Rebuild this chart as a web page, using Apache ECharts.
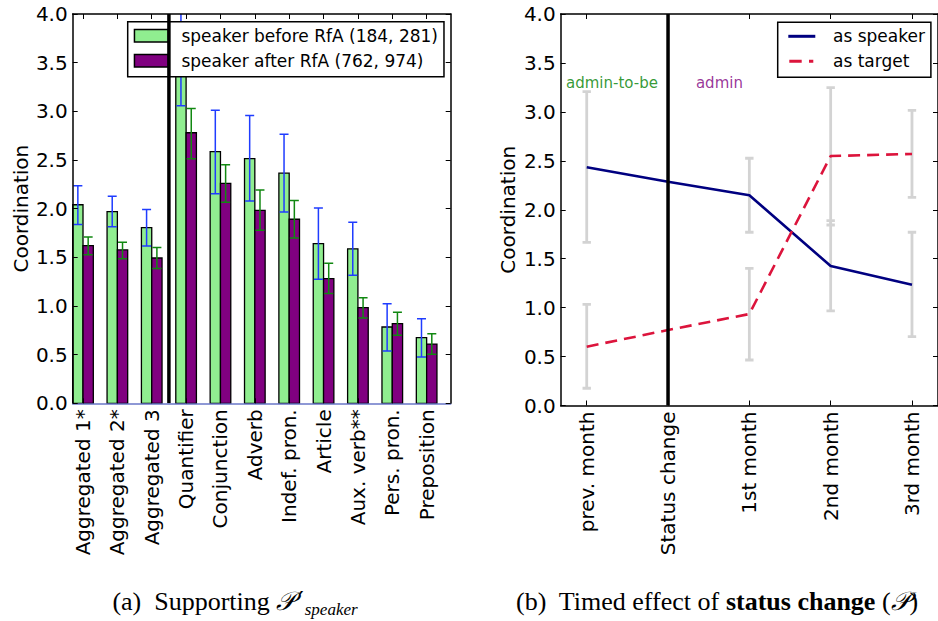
<!DOCTYPE html>
<html><head><meta charset="utf-8">
<script src="https://cdn.jsdelivr.net/npm/echarts@6/dist/echarts.min.js"></script>
<style>html,body{margin:0;padding:0;background:#fff}#c{width:938px;height:621px}</style>
</head><body><div id="c"></div>
<script>
// ---------- data: panel (a) ----------
const categories = ['Aggregated 1*','Aggregated 2*','Aggregated 3','Quantifier','Conjunction','Adverb','Indef. pron.','Article','Aux. verb**','Pers. pron.','Preposition'];
const beforeName = 'speaker before RfA (184, 281)';
const afterName = 'speaker after RfA (762, 974)';
const beforeMean = [2.04, 1.97, 1.805, 3.70, 2.585, 2.515, 2.365, 1.64, 1.587, 0.784, 0.674];
const beforeLow  = [1.836, 1.815, 1.617, 3.056, 2.154, 2.079, 1.966, 1.274, 1.315, 0.538, 0.476];
const beforeHigh = [2.236, 2.127, 1.99, 4.35, 3.01, 2.956, 2.765, 2.007, 1.86, 1.024, 0.87];
const afterMean  = [1.62, 1.576, 1.493, 2.78, 2.26, 1.983, 1.891, 1.281, 0.983, 0.818, 0.609];
const afterLow   = [1.527, 1.486, 1.384, 2.514, 2.066, 1.778, 1.699, 1.127, 0.877, 0.699, 0.503];
const afterHigh  = [1.709, 1.654, 1.60, 3.03, 2.452, 2.192, 2.083, 1.439, 1.085, 0.935, 0.715];
const yTicksMax = 4;

// ---------- data: panel (b) ----------
const timeLabels = ['prev. month','Status change','1st month','2nd month','3rd month'];
const speakerName = 'as speaker';
const targetName = 'as target';
const speakerVals = [2.434, 2.287, 2.148, 1.425, 1.234];
const targetVals  = [0.601, 0.771, 0.935, 2.549, 2.57];
const speakerLow  = [1.667, null, 1.77, 0.966, 0.703];
const speakerHigh = [3.206, null, 2.526, 1.888, 1.77];
const targetLow   = [0.176, null, 0.465, 1.844, 2.127];
const targetHigh  = [1.034, null, 1.402, 3.247, 3.016];

// ---------- layout constants ----------
const FONT = 'DejaVu Sans';
const AX_FS = 20;
const BAR_W = 0.3;
const SEP_A = 2.8;      // separator between aggregated and single categories (x units)
const SEP_B = 1;        // status change
const NOTE_Y = 3.3;

const chart = echarts.init(document.getElementById('c'), null, {renderer: 'svg'});

function barRender(off, fill, vals) {
  return function (params, api) {
    const i = params.dataIndex;
    const a = api.coord([i + off, 0]);
    const b = api.coord([i + off + BAR_W, vals[i]]);
    const cs = params.coordSys;
    const top = Math.max(b[1], cs.y);
    return {type: 'rect', shape: {x: a[0], y: top, width: b[0] - a[0], height: a[1] - top},
      style: {fill: fill, stroke: '#000', lineWidth: 1.3}};
  };
}
// error bar: reads low/high from the named arrays by category index
function errRender(off, color, capHalf, lw, lows, highs) {
  return function (params, api) {
    const i = params.dataIndex;
    if (lows[i] == null || highs[i] == null) return null;
    const lo = api.coord([i + off, lows[i]]);
    const hi = api.coord([i + off, highs[i]]);
    const cs = params.coordSys;
    const top = Math.max(hi[1], cs.y);
    const px = lo[0];
    let d = 'M' + (px - capHalf) + ' ' + lo[1] + 'L' + (px + capHalf) + ' ' + lo[1] +
            'M' + px + ' ' + lo[1] + 'L' + px + ' ' + top;
    if (hi[1] >= cs.y) d += 'M' + (px - capHalf) + ' ' + hi[1] + 'L' + (px + capHalf) + ' ' + hi[1];
    return {type: 'path', shape: {pathData: d}, style: {fill: null, stroke: color, lineWidth: lw}};
  };
}

const yAxisBase = (grid, pos, labels, name, gap) => ({
  type: 'value', gridIndex: grid, position: pos, min: 0, max: yTicksMax, interval: 0.5,
  axisLine: {show: true, onZero: false, lineStyle: {color: '#000', width: 1.5}},
  axisTick: {show: true, inside: true, length: 5, lineStyle: {color: '#000', width: 1}},
  axisLabel: {show: labels, margin: 5, fontFamily: FONT, fontSize: AX_FS, color: '#000', formatter: v => v.toFixed(1)},
  splitLine: {show: false},
  name: name, nameLocation: 'middle', nameGap: gap, nameRotate: 90,
  nameTextStyle: {fontFamily: FONT, fontSize: AX_FS, color: '#000'},
  z: 5
});

const catCenters = categories.map((_, i) => i + BAR_W);
const timeIdx = timeLabels.map((_, i) => i);

const option = {
  animation: false,
  backgroundColor: '#fff',
  grid: [
    {left: 72.7, top: 14, width: 378, height: 389.3},
    {left: 560.7, top: 14, width: 377.7, height: 391.5}
  ],
  xAxis: [
    {type: 'value', gridIndex: 0, position: 'bottom', min: 0, max: categories.length,
      axisLine: {show: true, onZero: false, lineStyle: {color: '#6a77c8', width: 1.5}},
      axisTick: {show: true, inside: true, length: 5, customValues: catCenters, lineStyle: {color: '#000'}},
      axisLabel: {customValues: catCenters, rotate: 90, margin: 6, fontFamily: FONT, fontSize: AX_FS, color: '#000',
        formatter: v => categories[Math.round(v - BAR_W)]},
      splitLine: {show: false}, z: 5},
    {type: 'value', gridIndex: 0, position: 'top', min: 0, max: categories.length,
      axisLine: {show: true, onZero: false, lineStyle: {color: '#000', width: 1.5}},
      axisTick: {show: true, inside: true, length: 5, customValues: catCenters, lineStyle: {color: '#000'}},
      axisLabel: {show: false}, splitLine: {show: false}, z: 5},
    {type: 'value', gridIndex: 1, position: 'bottom', min: -0.32, max: 4.32,
      axisLine: {show: true, onZero: false, lineStyle: {color: '#000', width: 1.5}},
      axisTick: {show: true, inside: true, length: 5, customValues: timeIdx, lineStyle: {color: '#000'}},
      axisLabel: {customValues: timeIdx, rotate: 90, margin: 6, fontFamily: FONT, fontSize: AX_FS, color: '#000',
        formatter: v => timeLabels[Math.round(v)]},
      splitLine: {show: false}, z: 5},
    {type: 'value', gridIndex: 1, position: 'top', min: -0.32, max: 4.32,
      axisLine: {show: true, onZero: false, lineStyle: {color: '#000', width: 1.5}},
      axisTick: {show: true, inside: true, length: 5, customValues: timeIdx, lineStyle: {color: '#000'}},
      axisLabel: {show: false}, splitLine: {show: false}, z: 5}
  ],
  yAxis: [
    yAxisBase(0, 'left', true, 'Coordination', 42),
    yAxisBase(0, 'right', false, '', 0),
    yAxisBase(1, 'left', true, 'Coordination', 43),
    yAxisBase(1, 'right', false, '', 0)
  ],
  legend: [
    {orient: 'vertical', left: 127.7, top: 21.7, padding: [4, 6, 6, 6], itemGap: 5,
      itemWidth: 34, itemHeight: 12.5, backgroundColor: '#fff', borderColor: '#000', borderWidth: 1.5, borderRadius: 0,
      selectedMode: false,
      textStyle: {fontFamily: FONT, fontSize: 17, color: '#000', lineHeight: 20, padding: [0, 0, 0, 8]},
      data: [
        {name: beforeName, icon: 'rect', itemStyle: {color: '#90ee90', borderColor: '#000', borderWidth: 1.5}},
        {name: afterName, icon: 'rect', itemStyle: {color: '#800080', borderColor: '#000', borderWidth: 1.5}}
      ]},
    {orient: 'vertical', left: 777.7, top: 22.3, padding: [4, 6, 6, 10.6], itemGap: 5,
      itemWidth: 27, itemHeight: 3, backgroundColor: '#fff', borderColor: '#000', borderWidth: 1.5, borderRadius: 0,
      selectedMode: false,
      textStyle: {fontFamily: FONT, fontSize: 17, color: '#000', lineHeight: 20, padding: [0, 0, 0, 12.7]},
      data: [
        {name: speakerName, icon: 'path://M0 0H27V3H0Z', itemStyle: {color: '#000080', borderWidth: 0}},
        {name: targetName, icon: 'path://M0 1.4H0.01V1.6H0Z M1 0H13.4V3H1Z M20.7 0H25V3H20.7Z M26.99 1.4H27V1.6H26.99Z',
          itemStyle: {color: '#dc143c', borderWidth: 0}}
      ]}
  ],
  series: [
    // panel (a)
    {type: 'custom', name: beforeName, xAxisIndex: 0, yAxisIndex: 0, z: 2,
      itemStyle: {color: '#90ee90'},
      data: beforeMean.map((v, i) => [i, v]), renderItem: barRender(0, '#90ee90', beforeMean)},
    {type: 'custom', name: afterName, xAxisIndex: 0, yAxisIndex: 0, z: 2,
      itemStyle: {color: '#800080'},
      data: afterMean.map((v, i) => [i, v]), renderItem: barRender(BAR_W, '#800080', afterMean)},
    {type: 'custom', name: 'err-before', xAxisIndex: 0, yAxisIndex: 0, z: 3,
      data: beforeLow.map((v, i) => [i, v, beforeHigh[i]]),
      renderItem: errRender(BAR_W / 2, '#1f3cff', 4.5, 1.5, beforeLow, beforeHigh)},
    {type: 'custom', name: 'err-after', xAxisIndex: 0, yAxisIndex: 0, z: 3,
      data: afterLow.map((v, i) => [i, v, afterHigh[i]]),
      renderItem: errRender(BAR_W * 1.5, '#118811', 4.5, 1.5, afterLow, afterHigh)},
    {type: 'line', name: 'sepA', xAxisIndex: 0, yAxisIndex: 0, z: 4, symbol: 'none', silent: true,
      lineStyle: {color: '#000', width: 3.5}, data: [[SEP_A, 0], [SEP_A, yTicksMax]]},
    // panel (b)
    {type: 'custom', name: 'err-speaker', xAxisIndex: 2, yAxisIndex: 2, z: 2,
      data: speakerVals.map((v, i) => [i, v]),
      renderItem: errRender(0, '#d3d3d3', 4.2, 2.8, speakerLow, speakerHigh)},
    {type: 'custom', name: 'err-target', xAxisIndex: 2, yAxisIndex: 2, z: 2,
      data: targetVals.map((v, i) => [i, v]),
      renderItem: errRender(0, '#d3d3d3', 4.2, 2.8, targetLow, targetHigh)},
    {type: 'line', name: speakerName, xAxisIndex: 2, yAxisIndex: 2, z: 3, symbol: 'none',
      itemStyle: {color: '#000080'}, lineStyle: {color: '#000080', width: 2.6},
      data: speakerVals.map((v, i) => [i, v])},
    {type: 'line', name: targetName, xAxisIndex: 2, yAxisIndex: 2, z: 3, symbol: 'none',
      itemStyle: {color: '#dc143c'}, lineStyle: {color: '#dc143c', width: 2.6, type: [12, 7]},
      data: targetVals.map((v, i) => [i, v])},
    {type: 'line', name: 'sepB', xAxisIndex: 2, yAxisIndex: 2, z: 4, symbol: 'none', silent: true,
      lineStyle: {color: '#000', width: 3.5}, data: [[SEP_B, 0], [SEP_B, yTicksMax]]},
    {type: 'scatter', name: 'notes', xAxisIndex: 2, yAxisIndex: 2, z: 4, symbolSize: 0, silent: true,
      label: {show: true, position: 'right', distance: 0, fontFamily: FONT, fontSize: 15, formatter: p => p.name},
      data: [
        {name: 'admin-to-be', value: [-0.255, NOTE_Y], label: {color: '#008000'}},
        {name: 'admin', value: [1.343, NOTE_Y], label: {color: '#800080'}}
      ]}
  ],
  graphic: [
    {type: 'text', x: 235, y: 601, style: {
      text: '{n|(a)  Supporting }{p|𝒫}{q|′}{s|speaker}', align: 'center', verticalAlign: 'middle',
      rich: {
        n: {fontFamily: 'Liberation Serif', fontSize: 26, color: '#000'},
        p: {fontFamily: 'Liberation Serif', fontSize: 26, fontStyle: 'italic', color: '#000'},
        q: {fontFamily: 'DejaVu Serif', fontSize: 24, color: '#000', padding: [0, 1, 0, 3]},
        s: {fontFamily: 'Liberation Serif', fontSize: 17, fontStyle: 'italic', color: '#000', padding: [16, 0, 0, 0]}
      }}},
    {type: 'text', x: 717, y: 601, style: {
      text: '{n|(b)  Timed effect of }{b|status change}{n| (}{p|𝒫}{n|)}', align: 'center', verticalAlign: 'middle',
      rich: {
        n: {fontFamily: 'Liberation Serif', fontSize: 26, color: '#000'},
        b: {fontFamily: 'Liberation Serif', fontSize: 26, fontWeight: 'bold', color: '#000'},
        p: {fontFamily: 'Liberation Serif', fontSize: 26, fontStyle: 'italic', color: '#000'}
      }}}
  ]
};
chart.setOption(option);
</script>
</body></html>
